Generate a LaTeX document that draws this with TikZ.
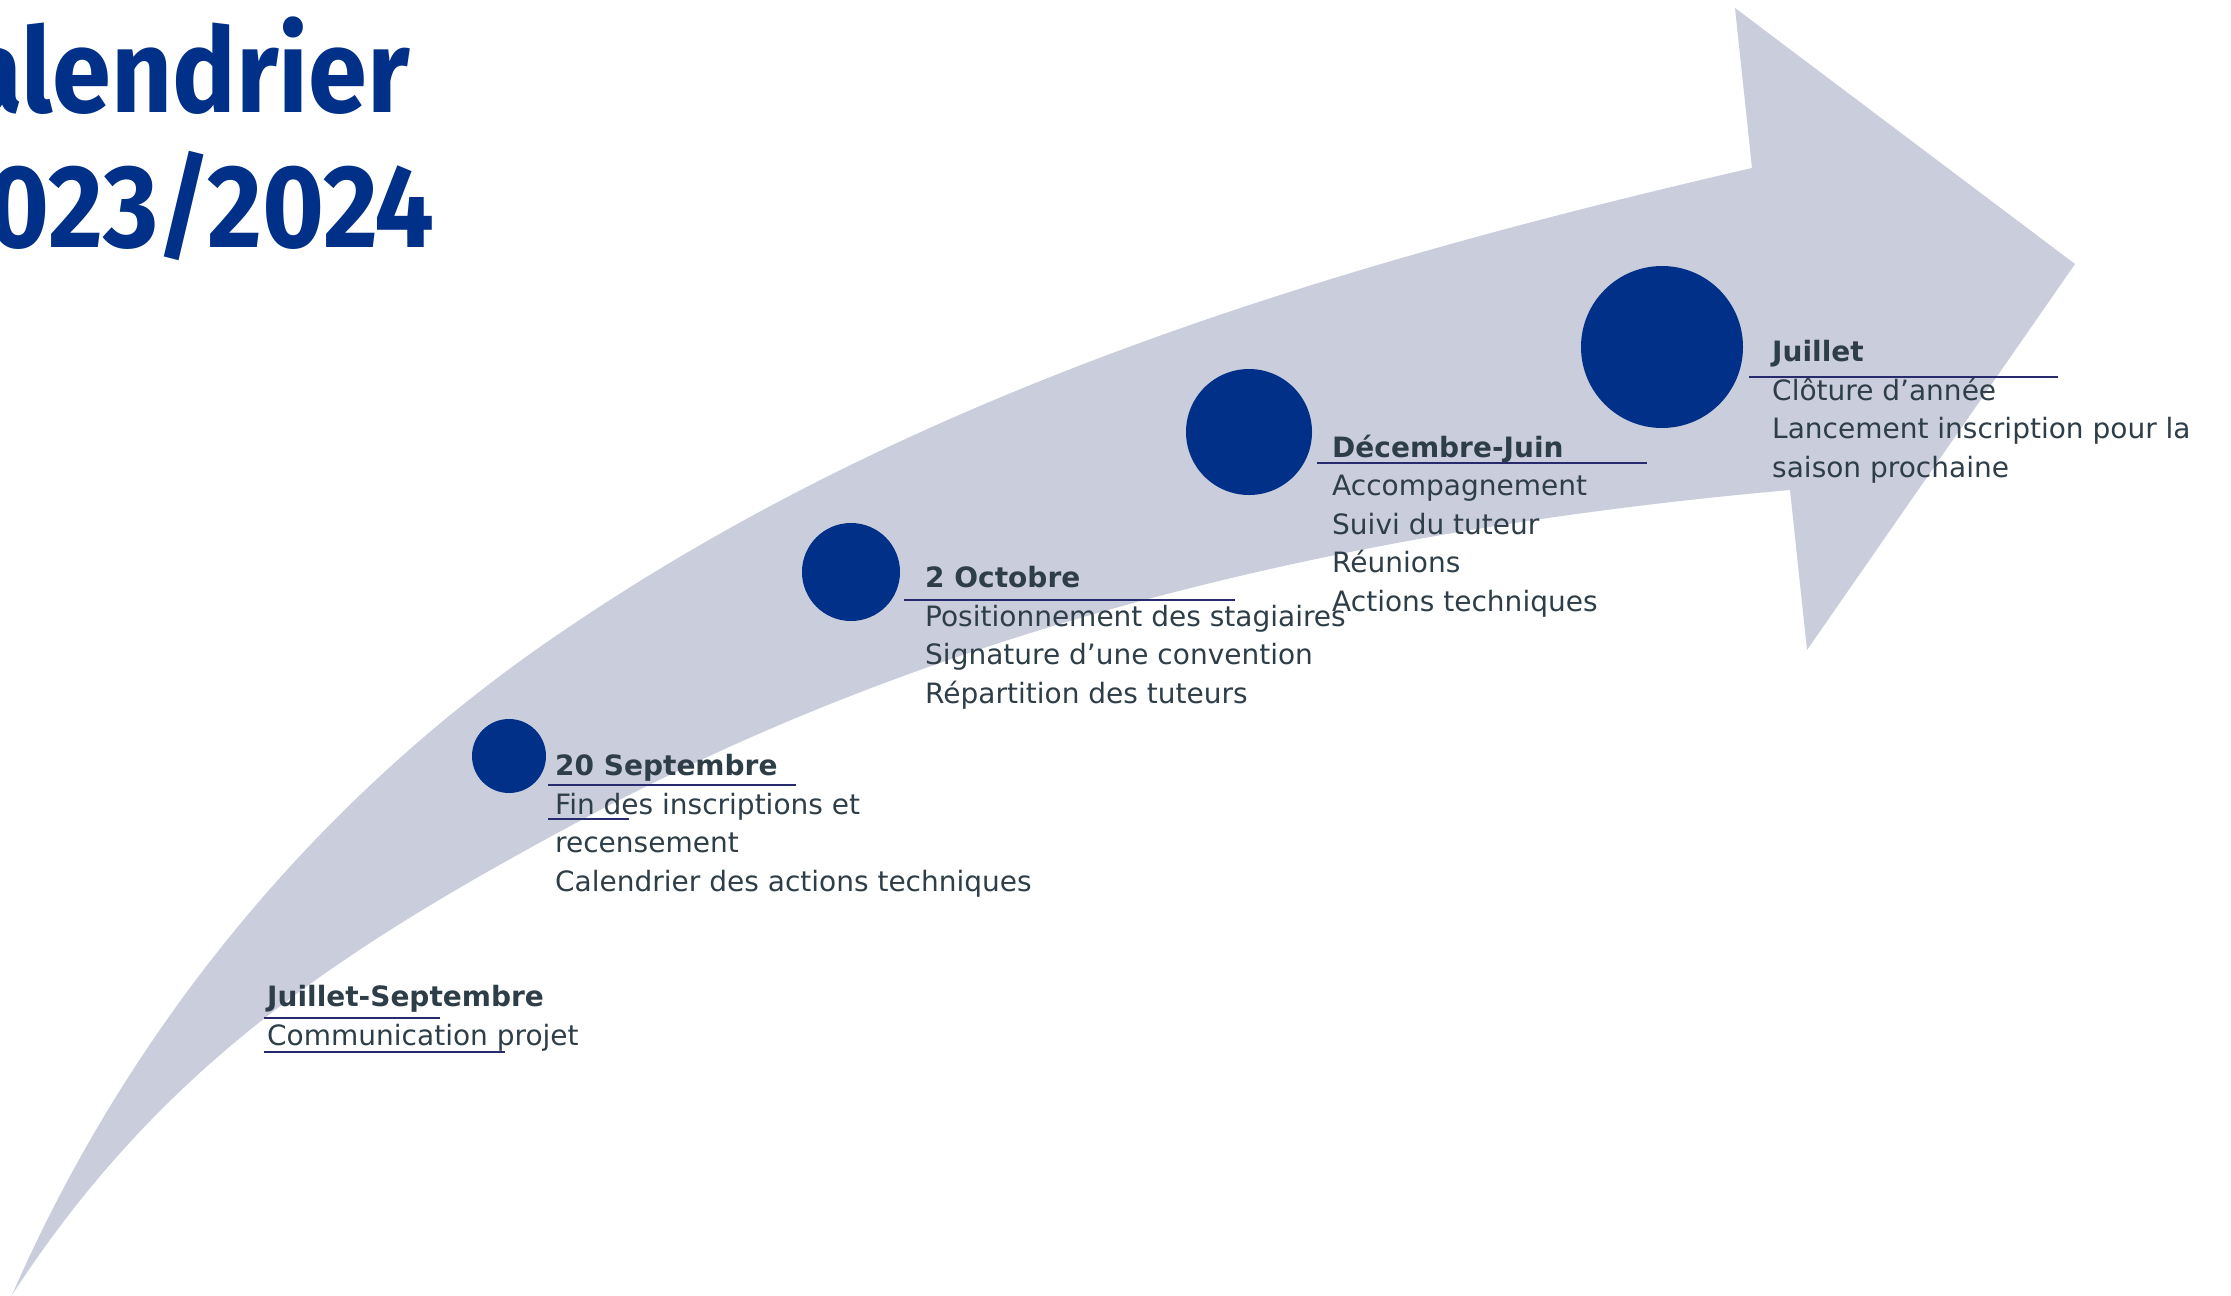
\documentclass[tikz,border=0pt]{standalone}
\usepackage{fontspec}
\setmainfont{DejaVu Sans}
\newfontfamily\titlefont{Fira Sans}[FakeStretch=0.9]

\definecolor{bandgrey}{RGB}{202,205,219}
\definecolor{dotblue}{RGB}{0,48,135}
\definecolor{inkgrey}{RGB}{46,62,72}
\definecolor{linenavy}{RGB}{40,42,110}

\tikzset{
	band/.style={fill=bandgrey},
	dot/.style={circle,fill=dotblue,inner sep=0pt},
	uline/.style={linenavy,line width=2pt},
	headline/.style={anchor=base east,inner sep=0pt,text=dotblue,font=\titlefont\bfseries\fontsize{118}{130}\selectfont},
	stage/.style={anchor=base west,inner sep=0pt,align=left,text=inkgrey,font=\fontsize{28}{38.5}\selectfont}
}

\begin{document}
\begin{tikzpicture}[x=1pt,y=-1pt]
	\useasboundingbox (0,0) rectangle (2231,1296);
	\clip (0,0) rectangle (2231,1296);

	%curved arrow
	\fill[band] (12,1295) .. controls (125,1036) and (306,812) .. (537,649)
		.. controls (897,396) and (1323,267) .. (1752,168)
		-- (1735,8) -- (2075,264) -- (1807,650) -- (1790,490)
		.. controls (1372,527) and (957,619) .. (587,817)
		.. controls (344,947) and (162,1064) .. (12,1295) -- cycle;

	%title
	\node[headline] (cal) at (410,112) {Calendrier};
	\node[headline] (year) at (435,247) {2023/2024};

	%milestones
	\foreach \x/\y/\r [count=\i] in {509/756/37, 851/572/49, 1249/432/63, 1662/347/81}{
		\node[dot, minimum size={2*\r*1pt}] (dot\i) at (\x,\y) {};
	}

	%underlines
	\foreach \a/\b/\y in {264/440/1018, 264/505/1052, 548/796/785, 548/629/819, 904/1235/600, 1317/1647/463, 1749/2058/377}{
		\draw[uline] (\a,\y) -- (\b,\y);
	}

	%texts, placed at the baseline of their last line
	\node[stage] (julsep) at (267,1045) {\textbf{Juillet-Septembre}\\Communication projet};
	\node[stage] (sep20) at (555,891) {\textbf{20 Septembre}\\Fin des inscriptions et\\recensement\\Calendrier des actions techniques};
	\node[stage] (oct2) at (925,703) {\textbf{2 Octobre}\\Positionnement des stagiaires\\Signature d’une convention\\Répartition des tuteurs};
	\node[stage] (decjun) at (1332,611) {\textbf{Décembre-Juin}\\Accompagnement\\Suivi du tuteur\\Réunions\\Actions techniques};
	\node[stage] (juil) at (1772,477) {\textbf{Juillet}\\Clôture d’année\\Lancement inscription pour la\\saison prochaine};
\end{tikzpicture}
\end{document}
